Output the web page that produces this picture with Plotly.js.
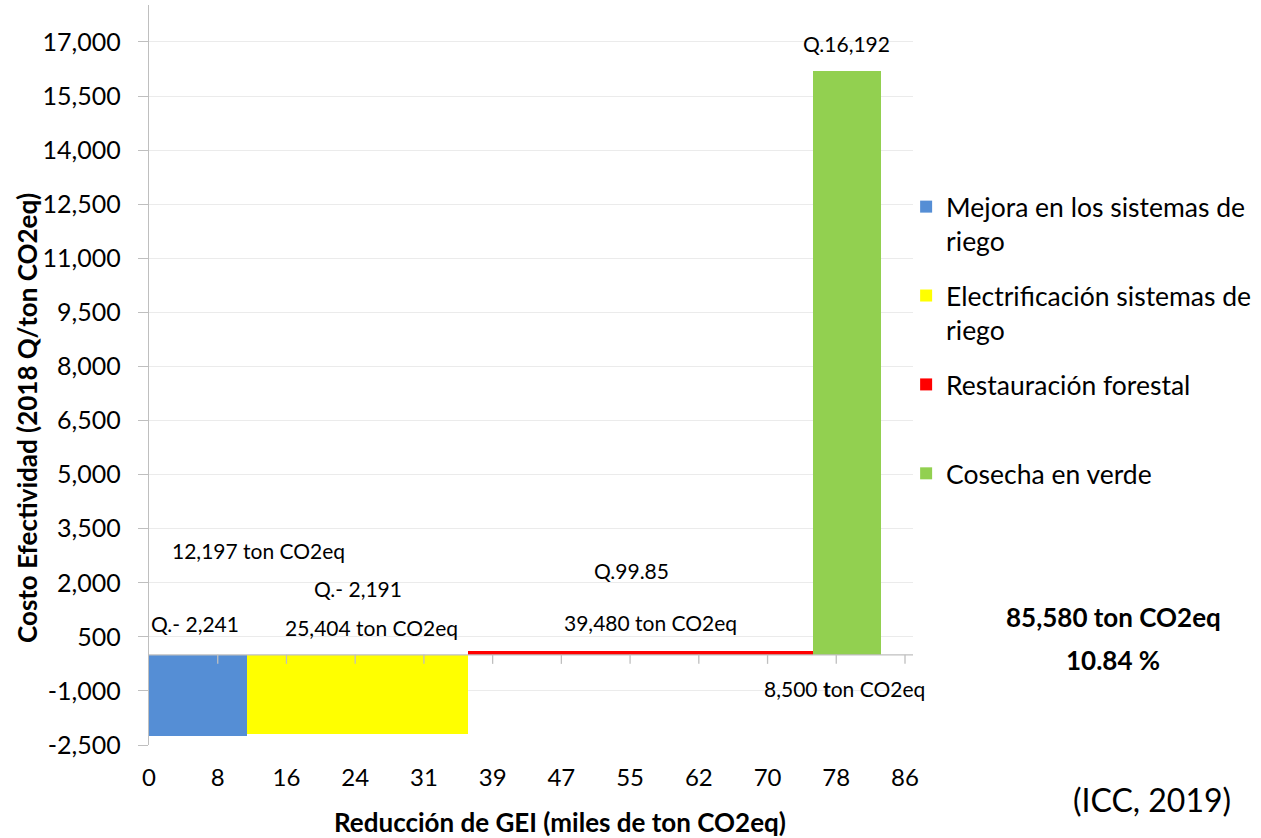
<!DOCTYPE html>
<html>
<head>
<meta charset="utf-8">
<script src="https://cdn.plot.ly/plotly-3.0.1.min.js"></script>
<style>html,body{margin:0;padding:0;background:#fff;}#chart{width:1261px;height:838px;}</style>
</head>
<body>
<div id="chart"></div>
<script>
// ---- data ----
const categories = ['Mejora en los sistemas de riego', 'Electrificación sistemas de riego', 'Restauración forestal', 'Cosecha en verde'];
const legendLabels = ['Mejora en los sistemas de<br>riego', 'Electrificación sistemas de<br>riego', 'Restauración forestal<br> ', 'Cosecha en verde'];
const costs = [-2241, -2191, 99.85, 16192];            // Q / ton CO2eq
const barWidths = [11.2, 25.1, 39.2, 7.8];             // miles de ton CO2eq as drawn
const costLabels = ['Q.- 2,241', 'Q.- 2,191', 'Q.99.85', 'Q.16,192'];
const reductionLabels = ['12,197 ton CO2eq', '25,404 ton CO2eq', '39,480 ton CO2eq', '8,500 <b>t</b>on CO2eq'];
const totalLabel = '<b>85,580 ton CO2eq</b>';
const shareLabel = '<b>10.84 %</b>';
const sourceLabel = '(ICC, 2019)';
const xTitle = '<b>Reducción de GEI (miles de ton CO2eq)</b>';
const yTitle = '<b>Costo Efectividad (2018 Q/ton CO2eq)</b>';
const xTickLabels = ['0', '8', '16', '24', '31', '39', '47', '55', '62', '70', '78', '86'];
const xTickMax = 86;
const yTickValues = [-2500, -1000, 500, 2000, 3500, 5000, 6500, 8000, 9500, 11000, 12500, 14000, 15500, 17000];
const yTickLabels = ['-2,500', '-1,000', '500', '2,000', '3,500', '5,000', '6,500', '8,000', '9,500', '11,000', '12,500', '14,000', '15,500', '17,000'];

// ---- styles ----
const colors = ['#558ED5', '#FFFF00', '#FF0000', '#92D050'];
const FONT = 'Lato, "Open Sans", sans-serif';
const xRange = [0, 86.91];
const yRange = [-2500, 18026];

// cumulative left edges
const lefts = [];
let acc = 0;
barWidths.forEach(w => { lefts.push(acc); acc += w; });

const traces = categories.map((c, i) => ({
  type: 'bar',
  name: legendLabels[i],
  x: [lefts[i] + barWidths[i] / 2],
  y: [costs[i]],
  width: [barWidths[i]],
  marker: {color: colors[i], line: {width: 0}},
  legendgroup: 'g' + i,
  hovertemplate: c + '<br>%{y}<extra></extra>'
}));

const xTickVals = xTickLabels.map((_, i) => i * xTickMax / (xTickLabels.length - 1));

// label positions (data coords)
const costPos = [[5.2, 881], [23.8, 1852], [54.9, 2352], [79.3, 16970]];
const redPos = [[12.4, 2906], [25.3, 770], [57.0, 909], [79.1, -922]];

const annFont = {family: FONT, size: 21, color: '#000'};
const annotations = [];
costLabels.forEach((t, i) => annotations.push({x: costPos[i][0], y: costPos[i][1], xref: 'x', yref: 'y', text: t, showarrow: false, font: annFont, xanchor: 'center', yanchor: 'middle'}));
reductionLabels.forEach((t, i) => annotations.push({x: redPos[i][0], y: redPos[i][1], xref: 'x', yref: 'y', text: t, showarrow: false, font: annFont, xanchor: 'center', yanchor: 'middle'}));
annotations.push({x: 1.262, y: 0.173, xref: 'paper', yref: 'paper', text: totalLabel, showarrow: false, font: {family: FONT, size: 26, color: '#000'}, xanchor: 'center', yanchor: 'middle'});
annotations.push({x: 1.262, y: 0.115, xref: 'paper', yref: 'paper', text: shareLabel, showarrow: false, font: {family: FONT, size: 26, color: '#000'}, xanchor: 'center', yanchor: 'middle'});
annotations.push({x: 1.313, y: -0.0743, xref: 'paper', yref: 'paper', text: sourceLabel, showarrow: false, font: {family: FONT, size: 32, color: '#000'}, xanchor: 'center', yanchor: 'middle'});
// axis titles
annotations.push({x: 0.5376, y: -0.1041, xref: 'paper', yref: 'paper', text: xTitle, showarrow: false, font: {family: FONT, size: 26, color: '#000'}, xanchor: 'center', yanchor: 'middle'});
annotations.push({x: -0.1597, y: 0.4419, xref: 'paper', yref: 'paper', text: yTitle, textangle: -90, showarrow: false, font: {family: FONT, size: 26, color: '#000'}, xanchor: 'center', yanchor: 'middle'});

// horizontal axis line at zero with tick marks
const shapes = [{type: 'line', xref: 'paper', yref: 'y', x0: 0, x1: 1, y0: 0, y1: 0, line: {color: '#BFBFBF', width: 1.3}, layer: 'above'}];
xTickVals.slice(1).forEach(v => shapes.push({type: 'line', xref: 'x', yref: 'y', ysizemode: 'pixel', yanchor: 0, x0: v, x1: v, y0: 0, y1: -9, line: {color: '#BFBFBF', width: 1.3}, layer: 'above'}));

const layout = {
  width: 1261, height: 838,
  margin: {l: 149, r: 348, t: 5, b: 93, pad: 0},
  paper_bgcolor: '#fff', plot_bgcolor: '#fff',
  barmode: 'overlay',
  bargap: 0,
  showlegend: true,
  legend: {x: 0.991, y: 0.7596, xanchor: 'left', yanchor: 'top', valign: 'top', font: {family: FONT, size: 26.5, color: '#000'}, tracegroupgap: 17, bgcolor: 'rgba(0,0,0,0)', itemclick: false},
  xaxis: {range: xRange, tickvals: xTickVals, ticktext: xTickLabels, showgrid: false, zeroline: false, showline: false,
          ticks: 'outside', ticklen: 11, tickcolor: 'rgba(0,0,0,0)', tickfont: {family: FONT, size: 24, color: '#000'},
          automargin: false, fixedrange: true},
  yaxis: {range: yRange, tickvals: yTickValues, ticktext: yTickLabels, showgrid: true, gridcolor: '#EBEBEB', gridwidth: 1, zeroline: false,
          showline: true, linecolor: '#BFBFBF', linewidth: 1.3, ticks: 'outside', ticklen: 10, tickcolor: '#BFBFBF',
          ticklabelstandoff: 12,
          tickfont: {family: FONT, size: 25, color: '#000'},
          automargin: false, fixedrange: true},
  annotations: annotations,
  shapes: shapes,
  font: {family: FONT, color: '#000'}
};

Plotly.newPlot('chart', traces, layout, {displayModeBar: false, staticPlot: true});
</script>
</body>
</html>
